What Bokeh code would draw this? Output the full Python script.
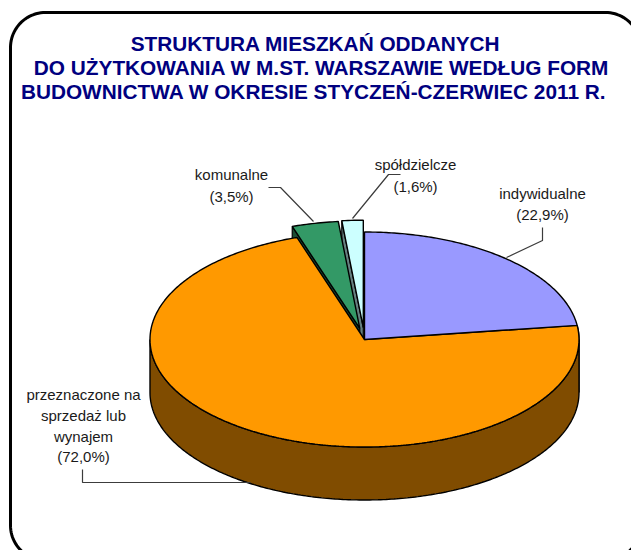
import numpy as np
from bokeh.plotting import figure
from bokeh.models import Range1d
from bokeh.core.properties import value
from bokeh.embed import file_html
from bokeh.resources import INLINE

# --- data, clockwise from 12 o'clock
categories = ["indywidualne", "przeznaczone na sprzedaż lub wynajem", "komunalne", "spółdzielcze"]
shares = [22.9, 72.0, 3.5, 1.6]
tops = ["#9999ff", "#ff9900", "#339966", "#ccffff"]
sides = ["#4d4d80", "#804c00", "#1a4d33", "#668080"]
exploded = [0.0, 0.0, 0.105, 0.11]
title_lines = ["STRUKTURA MIESZKAŃ ODDANYCH",
               "DO UŻYTKOWANIA W M.ST. WARSZAWIE WEDŁUG FORM",
               "BUDOWNICTWA W OKRESIE STYCZEŃ-CZERWIEC  2011 R."]
label_lines = [["indywidualne", "(22,9%)"],
               ["przeznaczone na", "sprzedaż lub", "wynajem", "(72,0%)"],
               ["komunalne", "(3,5%)"],
               ["spółdzielcze", "(1,6%)"]]

# --- layout, in reference pixels
W, H = 631, 550
CX, CY, RX, RY, DEPTH = 364.0, 339.0, 214.5, 107.5, 53.0
FONT = "Liberation Sans"
LABEL_POS = [(542, [193, 214]), (83, [394, 415, 436, 456]),
             (231, [174, 196]), (415, [164, 186])]
LEADERS = [([542, 542, 506], [227, 240, 257]),
           ([82, 82, 250], [469, 482, 482]),
           ([268, 280, 313], [187, 187, 221]),
           ([400, 388, 352], [174, 174, 218])]
TITLE_POS = [(315, 43), (321, 67), (316, 91)]

p = figure(width=W, height=H, output_backend="svg", toolbar_location=None,
           x_range=Range1d(0, W), y_range=Range1d(H, 0),
           min_border=0, background_fill_color="white", border_fill_color="white",
           outline_line_color=None)
p.axis.visible = False
p.grid.visible = False

# rounded frame running past the window edges
L, T, R_, B, r = 10, 12, 640, 560, 35
t = np.linspace(0, np.pi / 2, 24)
fx = np.concatenate([L + r - r * np.cos(t), R_ - r + r * np.sin(t),
                     R_ - r + r * np.cos(t), L + r - r * np.sin(t)])
fy = np.concatenate([T + r - r * np.sin(t), T + r - r * np.cos(t),
                     B - r + r * np.sin(t), B - r + r * np.cos(t)])
p.patch(fx, fy, fill_color="white", line_color="black", line_width=3)

# --- pie, projected by hand from the shares
cum = np.cumsum([0.0] + shares) / sum(shares) * 2 * np.pi
slices = []
for i in range(len(shares)):
    a0, a1 = cum[i], cum[i + 1]
    mid = (a0 + a1) / 2
    ox = CX + exploded[i] * RX * np.sin(mid)
    oy = CY - exploded[i] * RY * np.cos(mid)
    slices.append((a0, a1, ox, oy, tops[i], sides[i]))

def rim(s, a0, a1):
    a = np.linspace(a0, a1, max(3, int(abs(a1 - a0) * 80)))
    return s[2] + RX * np.sin(a), s[3] - RY * np.cos(a)

def draw_top(s):
    x, y = rim(s, s[0], s[1])
    p.patch(np.r_[s[2], x], np.r_[s[3], y], fill_color=s[4], line_color="black", line_width=1.4)

def draw_cut(s, a):
    x, y = s[2] + RX * np.sin(a), s[3] - RY * np.cos(a)
    p.patch([s[2], x, x, s[2]], [s[3], y, y + DEPTH, s[3] + DEPTH],
            fill_color=s[5], line_color="black", line_width=1.2)

def draw_wall(s, a0, a1):
    x, y = rim(s, a0, a1)
    p.patch(np.r_[x, x[::-1]], np.r_[y, y[::-1] + DEPTH],
            fill_color=s[5], line_color="black", line_width=1.4)

front0, front1 = np.pi / 2, 3 * np.pi / 2
ind, rent, kom, spo = slices
# back to front: detached slices first
draw_cut(spo, spo[0])
draw_top(spo)
draw_cut(kom, kom[0])
draw_top(kom)
draw_wall(ind, ind[1], front0)
draw_wall(rent, front0, front1)
draw_top(rent)
draw_top(ind)

# --- leaders and labels
for lx, ly in LEADERS:
    p.line(lx, ly, line_color="#3c3c3c", line_width=1.2)
for (tx, ys), lines in zip(LABEL_POS, label_lines):
    p.text([tx] * len(lines), ys, text=lines, text_align="center", text_baseline="middle",
           text_font=value(FONT), text_font_size="15px", text_color="#1a1a1a")
for (tx, ty), line in zip(TITLE_POS, title_lines):
    p.text([tx], [ty], text=[line], text_align="center", text_baseline="middle",
           text_font=value(FONT), text_font_size="20.8px", text_font_style="bold", text_color="#000080")

open("out.html", "w").write(file_html(p, INLINE))
